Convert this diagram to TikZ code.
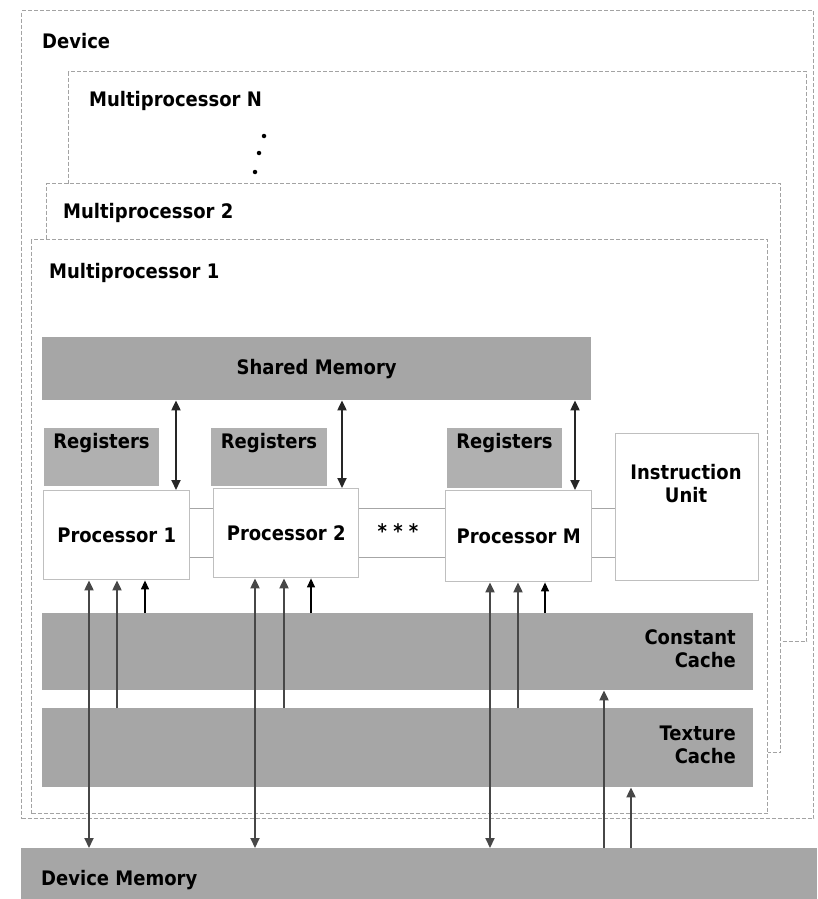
\documentclass[tikz,border=0pt]{standalone}
\usepackage{fontspec}
\setmainfont{DejaVu Sans}[FakeStretch=0.9]
\usetikzlibrary{arrows.meta}
\begin{document}
\begin{tikzpicture}[x=1pt,y=-1pt,
  frame/.style={draw=black!36, line width=1.4pt, dash pattern=on 4pt off 2pt,
                fill=white, inner sep=0pt, anchor=north west},
  shaded/.style={fill=black!35, draw=none, inner sep=0pt, anchor=north west,
                 font=\fontsize{20}{23}\selectfont\bfseries},
  unitbox/.style={draw=black!25, line width=1.4pt, fill=white, inner sep=0pt,
                  anchor=north west, font=\fontsize{20}{23}\selectfont\bfseries},
  lbl/.style={font=\fontsize{20}{23}\selectfont\bfseries, inner sep=0pt},
  dot/.style={circle, fill=black, inner sep=0pt, minimum size=4.5pt},
  busline/.style={draw=black!72, line width=2pt},
  thinline/.style={draw=black, line width=1.3pt},
  uparr/.style={busline, -{Triangle[length=10pt,width=9pt]}},
  thinup/.style={thinline, -{Triangle[length=9pt,width=8pt]}},
  both/.style={busline, {Triangle[length=10pt,width=9pt]}-{Triangle[length=10pt,width=9pt]}},
  bothdark/.style={draw=black!85, line width=2pt, {Triangle[length=10pt,width=9pt]}-{Triangle[length=10pt,width=9pt]}}
]
\useasboundingbox (0,0) rectangle (817,899);

% device and the stacked multiprocessors
\node[frame, minimum width=792pt, minimum height=808pt] (dev) at (21,10) {};
\node[lbl, anchor=west] (devlbl) at (42,41) {Device};
\node[frame, minimum width=738pt, minimum height=570pt] (mpN) at (68,71) {};
\node[lbl, anchor=west] (mpNlbl) at (89,101) {Multiprocessor N};
\node[dot] (vd1) at (264,136) {};
\node[dot] (vd2) at (259,153) {};
\node[dot] (vd3) at (255,172) {};
\node[frame, minimum width=734pt, minimum height=569pt] (mp2) at (46,183) {};
\node[lbl, anchor=west] (mp2lbl) at (63,213) {Multiprocessor 2};
\node[frame, minimum width=736pt, minimum height=574pt] (mp1) at (31,239) {};
\node[lbl, anchor=west] (mp1lbl) at (49,273) {Multiprocessor 1};

% shared memory and registers
\node[shaded, minimum width=549pt, minimum height=63pt] (shm) at (42,337) {Shared Memory};
\node[shaded, fill=black!31, minimum width=115pt, minimum height=58pt] (reg1) at (44,428) {};
\node[shaded, fill=black!31, minimum width=116pt, minimum height=58pt] (reg2) at (211,428) {};
\node[shaded, fill=black!31, minimum width=115pt, minimum height=60pt] (regM) at (447,428) {};
\node[lbl] (reg1lbl) at (101.5,443) {Registers};
\node[lbl] (reg2lbl) at (269,443) {Registers};
\node[lbl] (regMlbl) at (504.5,443) {Registers};

% processor row
\node[unitbox, draw=black!35, minimum width=435pt, minimum height=49pt] (strip) at (185,508) {};
\node[lbl] (etc) at (398,531) {* * *};
\node[unitbox, minimum width=146pt, minimum height=89pt] (p1) at (43,490) {Processor 1};
\node[unitbox, minimum width=145pt, minimum height=89pt] (p2) at (213,488) {Processor 2};
\node[unitbox, minimum width=146pt, minimum height=91pt] (pM) at (445,490) {Processor M};
\node[unitbox, minimum width=143pt, minimum height=147pt] (iu) at (615,433) {};
\node[lbl, align=center] (iulbl) at (686,484) {Instruction\\Unit};

% caches
\node[shaded, minimum width=711pt, minimum height=77pt] (cc) at (42,613) {};
\node[lbl, align=right, anchor=east] (cclbl) at (736,649) {Constant\\Cache};
\node[shaded, minimum width=711pt, minimum height=79pt] (tc) at (42,708) {};
\node[lbl, align=right, anchor=east] (tclbl) at (736,745) {Texture\\Cache};

% device memory
\node[shaded, minimum width=796pt, minimum height=51pt] (dm) at (21,848) {};
\node[lbl, anchor=west] (dmlbl) at (41,880) {Device Memory};

% column positions of the connectors
\coordinate (s1) at (176,0);  \coordinate (s2) at (342,0);  \coordinate (s3) at (575,0);
\coordinate (a1) at (89,0);   \coordinate (b1) at (117,0);  \coordinate (c1) at (145,0);
\coordinate (a2) at (255,0);  \coordinate (b2) at (284,0);  \coordinate (c2) at (311,0);
\coordinate (a3) at (490,0);  \coordinate (b3) at (518,0);  \coordinate (c3) at (545,0);
\coordinate (d1) at (604,0);  \coordinate (d2) at (631,0);

% shared memory <-> processors
\draw[bothdark] (shm.south -| s1) -- (p1.north -| s1);
\draw[bothdark] (shm.south -| s2) -- (p2.north -| s2);
\draw[bothdark] (shm.south -| s3) -- (pM.north -| s3);

% processors <-> device memory, caches -> processors
\draw[both]   (p1.south -| a1) -- (dm.north -| a1);
\draw[uparr]  (tc.north -| b1) -- (p1.south -| b1);
\draw[thinup] (cc.north -| c1) -- (p1.south -| c1);
\draw[both]   (p2.south -| a2) -- (dm.north -| a2);
\draw[uparr]  (tc.north -| b2) -- (p2.south -| b2);
\draw[thinup] (cc.north -| c2) -- (p2.south -| c2);
\draw[both]   (pM.south -| a3) -- (dm.north -| a3);
\draw[uparr]  (tc.north -| b3) -- (pM.south -| b3);
\draw[thinup] (cc.north -| c3) -- (pM.south -| c3);

% device memory -> caches
\draw[uparr] (dm.north -| d1) -- (cc.south -| d1);
\draw[uparr] (dm.north -| d2) -- (tc.south -| d2);
\end{tikzpicture}
\end{document}
